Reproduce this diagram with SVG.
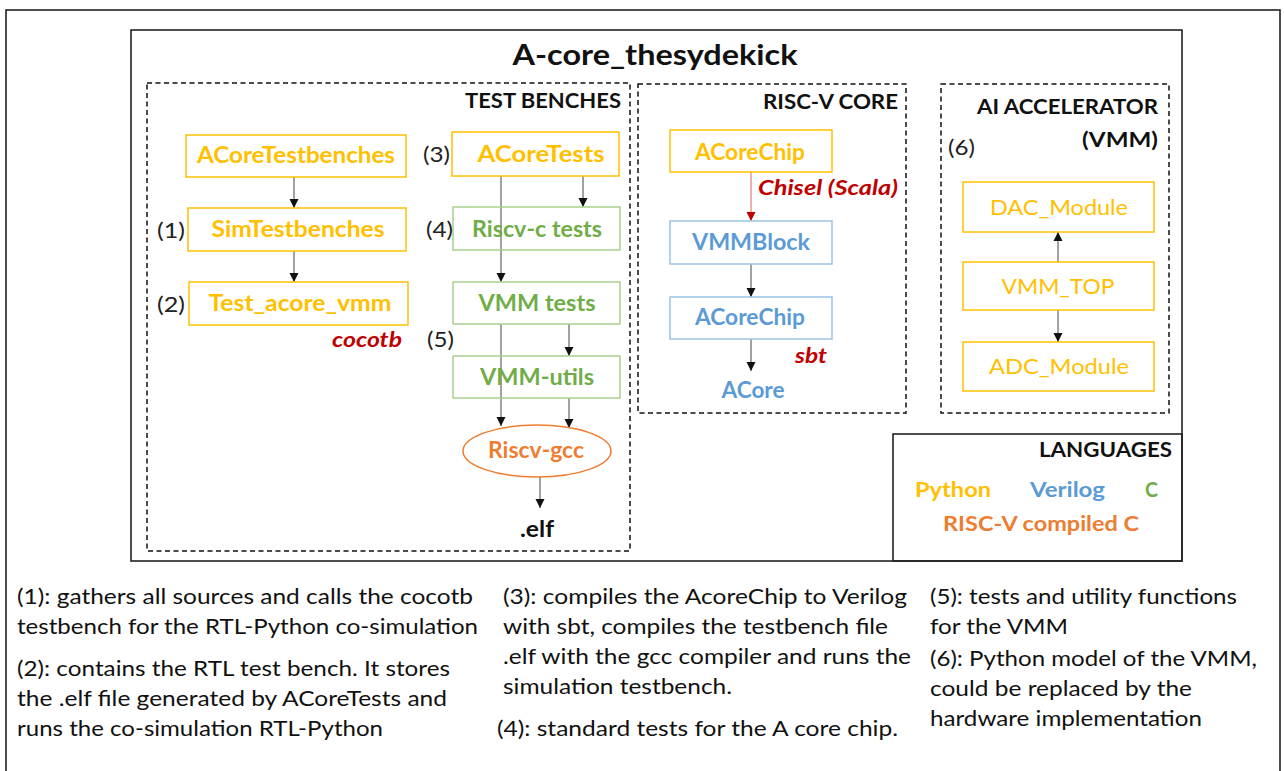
<svg xmlns="http://www.w3.org/2000/svg" width="1284" height="771" viewBox="0 0 1284 771">
<style>
.frame{fill:none;stroke:#222;stroke-width:1.6}
.dash{fill:none;stroke:#111;stroke-width:1.5;stroke-dasharray:5 3.5}
.box{fill:#fff;stroke-width:1.5}
.yb{stroke:#FFC000}
.gb{stroke:#A9D18E}
.bb{stroke:#9DC3E6}
text{font-family:Lato,"Open Sans","Liberation Sans",sans-serif}
.lbl{font-size:22px;font-weight:bold;text-anchor:middle}
.reg{font-size:22px;text-anchor:middle}
.y{fill:#FFC000}
.g{fill:#70AD47}
.b{fill:#5B9BD5}
.o{fill:#ED7D31}
.r{fill:#C00000;font-weight:bold;font-style:italic;font-size:21px}
.hd{font-size:21px;font-weight:bold;fill:#111;text-anchor:end}
.num{font-size:21px;fill:#222}
.note{font-size:22px;fill:#111}
.conn line{stroke:#444;stroke-width:1}
</style>
<defs>
<marker id="ah" markerWidth="10" markerHeight="10" refX="9" refY="5" orient="auto" markerUnits="userSpaceOnUse">
<path d="M0,0.5 L9,5 L0,9.5 Z" fill="#111"/>
</marker>
<marker id="ahr" markerWidth="10" markerHeight="10" refX="9" refY="5" orient="auto" markerUnits="userSpaceOnUse">
<path d="M0,0.5 L9,5 L0,9.5 Z" fill="#C00000"/>
</marker>
</defs>
<rect width="1284" height="771" fill="#fff"/>
<rect class="frame" x="6" y="10" width="1274" height="780"/>
<g id="main-frame">
<rect class="frame" x="131" y="30" width="1051" height="531" stroke="#404040"/>
<text x="655" y="65" font-size="28" font-weight="bold" text-anchor="middle" fill="#111" textLength="285" lengthAdjust="spacingAndGlyphs">A-core_thesydekick</text>
</g>
<g id="test-benches">
<rect class="dash" x="147" y="83" width="483" height="468"/>
<text class="hd" x="621" y="108" textLength="156" lengthAdjust="spacingAndGlyphs">TEST BENCHES</text>
</g>
<g id="riscv-core">
<rect class="dash" x="638" y="84" width="268" height="329"/>
<text class="hd" x="898" y="109" textLength="135" lengthAdjust="spacingAndGlyphs">RISC-V CORE</text>
</g>
<g id="ai-accelerator">
<rect class="dash" x="941" y="84" width="228" height="329"/>
<text class="hd" x="1158" y="114" textLength="181" lengthAdjust="spacingAndGlyphs">AI ACCELERATOR</text>
<text class="hd" x="1158" y="147" textLength="76" lengthAdjust="spacingAndGlyphs">(VMM)</text>
<text class="num" x="948" y="155" textLength="27" lengthAdjust="spacingAndGlyphs">(6)</text>
</g>
<g id="languages">
<rect class="frame" x="893" y="434" width="289" height="127" stroke="#404040"/>
<text class="hd" x="1172" y="457" textLength="133" lengthAdjust="spacingAndGlyphs">LANGUAGES</text>
<text x="915" y="497" font-size="21" font-weight="bold" class="y" textLength="76" lengthAdjust="spacingAndGlyphs">Python</text>
<text x="1030" y="497" font-size="21" font-weight="bold" class="b" textLength="75" lengthAdjust="spacingAndGlyphs">Verilog</text>
<text x="1145" y="497" font-size="21" font-weight="bold" class="g" textLength="13" lengthAdjust="spacingAndGlyphs">C</text>
<text x="943" y="531" font-size="21" font-weight="bold" class="o" textLength="196" lengthAdjust="spacingAndGlyphs">RISC-V compiled C</text>
</g>
<g class="conn" id="connectors">
<line x1="294" y1="177" x2="294" y2="208" marker-end="url(#ah)"/>
<line x1="294" y1="251" x2="294" y2="282" marker-end="url(#ah)"/>
<line x1="501" y1="176" x2="501" y2="282" marker-end="url(#ah)"/>
<line x1="583" y1="176" x2="583" y2="207" marker-end="url(#ah)"/>
<line x1="501" y1="324" x2="501" y2="426" marker-end="url(#ah)"/>
<line x1="569" y1="324" x2="569" y2="356" marker-end="url(#ah)"/>
<line x1="569" y1="398" x2="569" y2="428" marker-end="url(#ah)"/>
<line x1="540" y1="477" x2="540" y2="508" marker-end="url(#ah)"/>
<line x1="751" y1="172" x2="751" y2="221" style="stroke:#E06060" marker-end="url(#ahr)"/>
<line x1="751" y1="264" x2="751" y2="297" marker-end="url(#ah)"/>
<line x1="751" y1="339" x2="751" y2="371" marker-end="url(#ah)"/>
<line x1="1058" y1="262" x2="1058" y2="232" marker-end="url(#ah)"/>
<line x1="1058" y1="310" x2="1058" y2="342" marker-end="url(#ah)"/>
</g>
<g id="n-acoretestbenches">
<rect class="box yb" x="186" y="135" width="220" height="42"/>
<text class="lbl y" x="296" y="163" textLength="198" lengthAdjust="spacingAndGlyphs">ACoreTestbenches</text>
</g>
<g id="n-simtestbenches">
<rect class="box yb" x="188" y="208" width="218" height="43"/>
<text class="lbl y" x="298" y="237" textLength="173" lengthAdjust="spacingAndGlyphs">SimTestbenches</text>
<text class="num" x="157" y="238" textLength="28" lengthAdjust="spacingAndGlyphs">(1)</text>
</g>
<g id="n-test-acore-vmm">
<rect class="box yb" x="189" y="282" width="219" height="43"/>
<text class="lbl y" x="300" y="311" textLength="183" lengthAdjust="spacingAndGlyphs">Test_acore_vmm</text>
<text class="num" x="157" y="312" textLength="28" lengthAdjust="spacingAndGlyphs">(2)</text>
<text class="r" x="332" y="347" textLength="70" lengthAdjust="spacingAndGlyphs">cocotb</text>
</g>
<g id="n-acoretests">
<rect class="box yb" x="452" y="132" width="167" height="44"/>
<text class="lbl y" x="541" y="162" textLength="127" lengthAdjust="spacingAndGlyphs">ACoreTests</text>
<text class="num" x="423" y="162" textLength="27" lengthAdjust="spacingAndGlyphs">(3)</text>
</g>
<g id="n-riscv-c-tests">
<rect class="box gb" x="453" y="207" width="167" height="43" style="fill:none"/>
<text class="lbl g" x="537" y="237" textLength="130" lengthAdjust="spacingAndGlyphs">Riscv-c tests</text>
<text class="num" x="426" y="237" textLength="27" lengthAdjust="spacingAndGlyphs">(4)</text>
</g>
<g id="n-vmm-tests">
<rect class="box gb" x="453" y="282" width="167" height="42"/>
<text class="lbl g" x="537" y="311" textLength="117" lengthAdjust="spacingAndGlyphs">VMM tests</text>
<text class="num" x="427" y="347" textLength="27" lengthAdjust="spacingAndGlyphs">(5)</text>
</g>
<g id="n-vmm-utils">
<rect class="box gb" x="453" y="356" width="167" height="42" style="fill:none"/>
<text class="lbl g" x="537" y="385" textLength="114" lengthAdjust="spacingAndGlyphs">VMM-utils</text>
</g>
<g id="n-riscv-gcc">
<ellipse cx="537" cy="451" rx="74" ry="26" fill="#fff" stroke="#ED7D31" stroke-width="1.5"/>
<text class="lbl o" x="536" y="458" textLength="96" lengthAdjust="spacingAndGlyphs">Riscv-gcc</text>
</g>
<g id="n-elf">
<text class="lbl" x="537" y="537" fill="#111" textLength="34" lengthAdjust="spacingAndGlyphs">.elf</text>
</g>
<g id="n-acorechip-py">
<rect class="box yb" x="670" y="130" width="162" height="42"/>
<text class="lbl y" x="750" y="160" textLength="110" lengthAdjust="spacingAndGlyphs">ACoreChip</text>
<text class="r" x="758" y="195" textLength="140" lengthAdjust="spacingAndGlyphs">Chisel (Scala)</text>
</g>
<g id="n-vmmblock">
<rect class="box bb" x="670" y="221" width="162" height="43"/>
<text class="lbl b" x="751" y="250" textLength="118" lengthAdjust="spacingAndGlyphs">VMMBlock</text>
</g>
<g id="n-acorechip-v">
<rect class="box bb" x="670" y="297" width="162" height="42"/>
<text class="lbl b" x="750" y="325" textLength="110" lengthAdjust="spacingAndGlyphs">ACoreChip</text>
<text class="r" x="795" y="363" textLength="32" lengthAdjust="spacingAndGlyphs">sbt</text>
</g>
<g id="n-acore">
<text class="lbl b" x="753" y="398" textLength="63" lengthAdjust="spacingAndGlyphs">ACore</text>
</g>
<g id="n-dac">
<rect class="box yb" x="963" y="182" width="191" height="50"/>
<text class="reg y" x="1059" y="215" textLength="138" lengthAdjust="spacingAndGlyphs">DAC_Module</text>
</g>
<g id="n-vmmtop">
<rect class="box yb" x="963" y="262" width="191" height="48"/>
<text class="reg y" x="1058" y="294" textLength="113" lengthAdjust="spacingAndGlyphs">VMM_TOP</text>
</g>
<g id="n-adc">
<rect class="box yb" x="963" y="342" width="191" height="49"/>
<text class="reg y" x="1059" y="374" textLength="140" lengthAdjust="spacingAndGlyphs">ADC_Module</text>
</g>
<g id="notes">
<text class="note" x="17" y="604" textLength="456" lengthAdjust="spacingAndGlyphs">(1): gathers all sources and calls the cocotb</text>
<text class="note" x="17" y="634" textLength="461" lengthAdjust="spacingAndGlyphs">testbench for the RTL-Python co-simulation</text>
<text class="note" x="17" y="676" textLength="433" lengthAdjust="spacingAndGlyphs">(2): contains the RTL test bench. It stores</text>
<text class="note" x="17" y="706" textLength="430" lengthAdjust="spacingAndGlyphs">the .elf file generated by ACoreTests and</text>
<text class="note" x="17" y="736" textLength="366" lengthAdjust="spacingAndGlyphs">runs the co-simulation RTL-Python</text>
<text class="note" x="503" y="604" textLength="404" lengthAdjust="spacingAndGlyphs">(3): compiles the AcoreChip to Verilog</text>
<text class="note" x="503" y="634" textLength="385" lengthAdjust="spacingAndGlyphs">with sbt, compiles the testbench file</text>
<text class="note" x="503" y="664" textLength="408" lengthAdjust="spacingAndGlyphs">.elf with the gcc compiler and runs the</text>
<text class="note" x="503" y="694" textLength="229" lengthAdjust="spacingAndGlyphs">simulation testbench.</text>
<text class="note" x="497" y="736" textLength="401" lengthAdjust="spacingAndGlyphs">(4): standard tests for the A core chip.</text>
<text class="note" x="930" y="604" textLength="307" lengthAdjust="spacingAndGlyphs">(5): tests and utility functions</text>
<text class="note" x="930" y="634" textLength="138" lengthAdjust="spacingAndGlyphs">for the VMM</text>
<text class="note" x="930" y="666" textLength="327" lengthAdjust="spacingAndGlyphs">(6): Python model of the VMM,</text>
<text class="note" x="930" y="696" textLength="262" lengthAdjust="spacingAndGlyphs">could be replaced by the</text>
<text class="note" x="930" y="726" textLength="272" lengthAdjust="spacingAndGlyphs">hardware implementation</text>
</g>
</svg>
